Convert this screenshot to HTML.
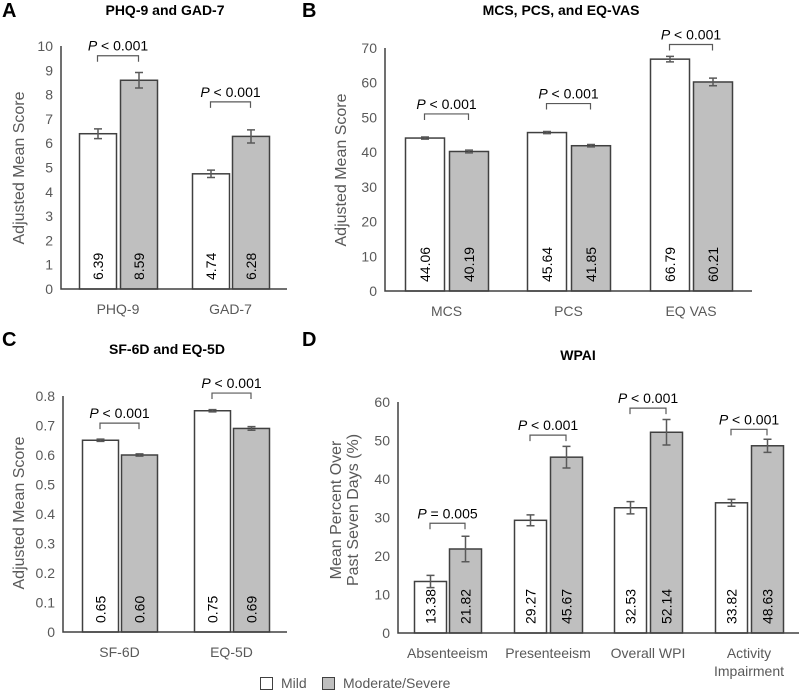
<!DOCTYPE html>
<html><head><meta charset="utf-8"><style>
body{margin:0;background:#fff;}
svg{display:block;font-family:"Liberation Sans",sans-serif;}
.tick{fill:#595959;font-size:14px;}
.cat{fill:#595959;font-size:14px;}
.ttl{font-weight:bold;font-size:14px;fill:#000;}
.lab{font-weight:bold;font-size:20px;fill:#000;}
.val{font-size:14px;fill:#000;}
.pv{font-size:14px;fill:#000;}
.yt{fill:#595959;font-size:16px;}
</style></head><body>
<svg id="fig" width="800" height="692" viewBox="0 0 800 692">
<text class="lab" x="2" y="17">A</text>
<text class="lab" x="302" y="17">B</text>
<text class="lab" x="2" y="346">C</text>
<text class="lab" x="302" y="346">D</text>
<g>
<rect x="260.5" y="677.5" width="12" height="12" fill="#fff" stroke="#404040"/>
<text x="281" y="688" class="cat">Mild</text>
<rect x="322.5" y="677.5" width="12" height="12" fill="#bfbfbf" stroke="#404040"/>
<text x="343" y="688" class="cat">Moderate/Severe</text>
</g>
</svg>
<script>
// Panel A
const catsA = ["PHQ-9","GAD-7"];
const mildA = [6.39, 4.74];
const modA = [8.59, 6.28];
const mildErrA = [0.2, 0.15];
const modErrA = [0.32, 0.27];
const labMildA = ["6.39","4.74"];
const labModA = ["8.59","6.28"];
const pA = ["< 0.001","< 0.001"];
const pLevA = [9.6, 7.7];
const ticksA = [0,1,2,3,4,5,6,7,8,9,10];
// Panel B
const catsB = ["MCS","PCS","EQ VAS"];
const mildB = [44.06, 45.64, 66.79];
const modB = [40.19, 41.85, 60.21];
const mildErrB = [0.3, 0.3, 0.8];
const modErrB = [0.4, 0.35, 1.1];
const labMildB = ["44.06","45.64","66.79"];
const labModB = ["40.19","41.85","60.21"];
const pB = ["< 0.001","< 0.001","< 0.001"];
const pLevB = [51, 54, 71];
const ticksB = [0,10,20,30,40,50,60,70];
// Panel C
const catsC = ["SF-6D","EQ-5D"];
const mildC = [0.65, 0.75];
const modC = [0.60, 0.69];
const mildErrC = [0.004, 0.004];
const modErrC = [0.004, 0.006];
const labMildC = ["0.65","0.75"];
const labModC = ["0.60","0.69"];
const pC = ["< 0.001","< 0.001"];
const pLevC = [0.708, 0.81];
const ticksC = [0,0.1,0.2,0.3,0.4,0.5,0.6,0.7,0.8];
const tickLabC = ["0","0.1","0.2","0.3","0.4","0.5","0.6","0.7","0.8"];
// Panel D
const catsD = [["Absenteeism"],["Presenteeism"],["Overall WPI"],["Activity","Impairment"]];
const mildD = [13.38, 29.27, 32.53, 33.82];
const modD = [21.82, 45.67, 52.14, 48.63];
const mildErrD = [1.6, 1.4, 1.6, 0.9];
const modErrD = [3.3, 2.8, 3.3, 1.7];
const labMildD = ["13.38","29.27","32.53","33.82"];
const labModD = ["21.82","45.67","52.14","48.63"];
const pD = ["= 0.005","< 0.001","< 0.001","< 0.001"];
const pLevD = [28.5, 51.4, 58.4, 52.9];
const ticksD = [0,10,20,30,40,50,60];

const NS="http://www.w3.org/2000/svg";
const svg=document.getElementById('fig');
function mk(tag,attrs,parent,txt){const e=document.createElementNS(NS,tag);for(const k in attrs)e.setAttribute(k,attrs[k]);if(txt!==undefined)e.textContent=txt;(parent||svg).appendChild(e);return e;}

function panel(cfg){
  const g=mk('g',{});
  
  
  const y=v=>cfg.y0-(v/cfg.max)*(cfg.y0-cfg.yTop);
  const t=mk('text',{x:cfg.tx,y:cfg.ty,'text-anchor':'middle',class:'ttl'},g,cfg.title);
  
  
  cfg.ticks.forEach((v,i)=>{
    const tl=mk('text',{x:cfg.ax-8,y:y(v)+5,'text-anchor':'end',class:'tick'},g,cfg.tickLabels?cfg.tickLabels[i]:String(v));
    
    
  });
  const yt=mk('text',{class:'yt','text-anchor':'middle',transform:`translate(${cfg.ytx},${cfg.yty}) rotate(-90)`},g);
  
  
  cfg.ytitle.forEach((s,i)=>mk('tspan',{x:0,dy:i?17:0},yt,s));
  cfg.cats.forEach((c,i)=>{
    const xs=[cfg.mx[i],cfg.dx[i]];
    const vals=[cfg.mild[i],cfg.mod[i]];
    const errs=[cfg.mErr[i],cfg.dErr[i]];
    const labs=[cfg.lMild[i],cfg.lMod[i]];
    for(let k=0;k<2;k++){
      const b=mk('rect',{x:xs[k]+0.5,y:y(vals[k]),width:cfg.bw,height:cfg.y0-y(vals[k]),fill:k?'#bfbfbf':'#fff',stroke:'#404040','stroke-width':1.5},g);
      
      
      const cx=xs[k]+cfg.bw/2+0.5;
      const e=mk('path',{d:`M${cx},${y(vals[k]+errs[k])}V${y(vals[k]-errs[k])}M${cx-4},${y(vals[k]+errs[k])}H${cx+4}M${cx-4},${y(vals[k]-errs[k])}H${cx+4}`,stroke:'#595959','stroke-width':1.5,fill:'none'},g);
      
      
      const vl=mk('text',{class:'val',transform:`translate(${cx+5},${cfg.y0-9}) rotate(-90)`},g,labs[k]);
      
      
    }
    const c1=xs[0]+cfg.bw/2, c2=xs[1]+cfg.bw/2, py=y(cfg.pLev[i]);
    const br=mk('path',{d:`M${c1},${py+6}V${py}H${c2}V${py+6}`,stroke:'#595959','stroke-width':1.2,fill:'none'},g);
    
    
    const pt=mk('text',{class:'pv',x:(c1+c2)/2,y:py-5,'text-anchor':'middle'},g);
    
    
    mk('tspan',{'font-style':'italic'},pt,'P');
    mk('tspan',{},pt,' '+cfg.p[i]);
    const lines=Array.isArray(c)?c:[c];
    lines.forEach((s,j)=>{
      const cl=mk('text',{class:'cat',x:(xs[0]+xs[1]+cfg.bw)/2,y:cfg.y0+25+j*18,'text-anchor':'middle'},g,s);
      
      
    });
  });
  const ax=mk('path',{d:`M${cfg.ax},${cfg.yTop}V${cfg.y0}H${cfg.axEnd}`,stroke:'#404040','stroke-width':1.5,fill:'none'},g);
  
  
}
panel({name:'panel-a-chart',title:'PHQ-9 and GAD-7',tx:165,ty:15,ax:61,axEnd:287,y0:289,yTop:46,max:10,ticks:ticksA,
  ytitle:['Adjusted Mean Score'],ytx:24,yty:168,cats:catsA,mild:mildA,mod:modA,mErr:mildErrA,dErr:modErrA,lMild:labMildA,lMod:labModA,
  p:pA,pLev:pLevA,mx:[79,192],dx:[120,232],bw:37});
panel({name:'panel-b-chart',title:'MCS, PCS, and EQ-VAS',tx:561,ty:15,ax:385,axEnd:752,y0:291,yTop:48,max:70,ticks:ticksB,
  ytitle:['Adjusted Mean Score'],ytx:346,yty:170,cats:catsB,mild:mildB,mod:modB,mErr:mildErrB,dErr:modErrB,lMild:labMildB,lMod:labModB,
  p:pB,pLev:pLevB,mx:[405,527,650],dx:[449,571,693],bw:39});
panel({name:'panel-c-chart',title:'SF-6D and EQ-5D',tx:167,ty:354,ax:63,axEnd:287,y0:632,yTop:396,max:0.8,ticks:ticksC,tickLabels:tickLabC,
  ytitle:['Adjusted Mean Score'],ytx:24,yty:513,cats:catsC,mild:mildC,mod:modC,mErr:mildErrC,dErr:modErrC,lMild:labMildC,lMod:labModC,
  p:pC,pLev:pLevC,mx:[82,194],dx:[121,233],bw:36});
panel({name:'panel-d-chart',title:'WPAI',tx:578,ty:360,ax:398,axEnd:799,y0:633,yTop:402,max:60,ticks:ticksD,
  ytitle:['Mean Percent Over','Past Seven Days (%)'],ytx:341,yty:510,cats:catsD,mild:mildD,mod:modD,mErr:mildErrD,dErr:modErrD,lMild:labMildD,lMod:labModD,
  p:pD,pLev:pLevD,mx:[414,514,614,715],dx:[449,550,650,751],bw:32});
</script>
</body></html>
